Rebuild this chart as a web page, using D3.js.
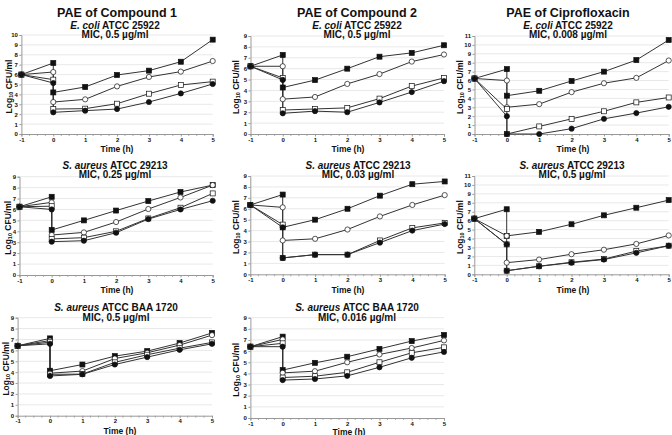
<!DOCTYPE html>
<html><head><meta charset="utf-8">
<script src="https://cdn.jsdelivr.net/npm/d3@7/dist/d3.min.js"></script>
<style>
body{margin:0;background:#fff}
text{font-family:"Liberation Sans",Arial,sans-serif;font-weight:bold;fill:#111}
</style>
</head><body>
<svg id="chart" width="672" height="435"></svg>
<script>
// ---------- DATA ----------
// time points: -1 h (start), 0 h before wash, 0 h after wash, then 1..5 h
const timeHours = [-1, 0, 0, 1, 2, 3, 4, 5];
const xTickValues = [-1, 0, 1, 2, 3, 4, 5];
const columnTitles = ["PAE of Compound 1", "PAE of Compound 2", "PAE of Ciprofloxacin"];
const panelSpecies = ["E. coli", "E. coli", "E. coli", "S. aureus", "S. aureus", "S. aureus", "S. aureus", "S. aureus"];
const panelStrains = ["ATCC 25922", "ATCC 25922", "ATCC 25922", "ATCC 29213", "ATCC 29213", "ATCC 29213", "ATCC BAA 1720", "ATCC BAA 1720"];
const panelMIC = ["0.5", "0.5", "0.008", "0.25", "0.03", "0.5", "0.5", "0.016"];
const panelYMax = [10, 9, 11, 9, 9, 11, 9, 9];
const seriesMarkers = ["filledSquare", "openCircle", "openSquare", "filledCircle"];

// each panel: four series (filled square, open circle, open square, filled circle)
const cmp1Ecoli = [
  [6.0, 7.17, 4.2, 4.75, 5.96, 6.4, 7.3, 9.53],
  [6.0, 6.26, 3.23, 3.5, 4.81, 5.76, 6.3, 7.37],
  [6.0, 5.49, 2.52, 2.56, 3.06, 4.07, 4.95, 5.29],
  [6.0, 5.15, 2.19, 2.36, 2.52, 3.23, 4.1, 5.05]
];
const cmp2Ecoli = [
  [6.22, 7.26, 4.27, 4.95, 6.0, 7.1, 7.45, 8.15],
  [6.22, 6.22, 3.2, 3.4, 4.6, 5.5, 6.65, 7.3],
  [6.22, 5.15, 2.2, 2.3, 2.4, 3.25, 4.4, 5.15],
  [6.22, 4.97, 1.9, 2.1, 2.0, 2.9, 3.85, 4.85]
];
const ciproEcoli = [
  [6.23, 7.28, 4.3, 4.85, 5.95, 7.0, 8.3, 10.55],
  [6.23, 6.0, 3.0, 3.35, 4.7, 5.7, 6.3, 8.25],
  [6.23, 2.8, 0.0, 0.85, 1.7, 2.55, 3.55, 4.1],
  [6.23, 2.0, 0.0, 0.0, 0.6, 1.7, 2.35, 3.05]
];
const cmp1Sa29213 = [
  [6.25, 7.16, 4.12, 5.0, 5.9, 6.77, 7.6, 8.23],
  [6.25, 6.65, 3.66, 3.9, 4.85, 6.04, 7.1, 8.23],
  [6.25, 6.3, 3.3, 3.42, 4.0, 5.18, 6.16, 7.47],
  [6.25, 6.0, 3.05, 3.14, 3.87, 5.12, 6.0, 6.8]
];
const cmp2Sa29213 = [
  [6.35, 7.3, 4.3, 5.0, 6.0, 7.2, 8.25, 8.5],
  [6.35, 6.13, 3.1, 3.25, 4.1, 5.3, 6.35, 7.25],
  [6.35, 4.55, 1.5, 1.8, 1.8, 3.1, 4.25, 4.7],
  [6.35, 4.3, 1.5, 1.8, 1.8, 2.9, 4.0, 4.6]
];
const ciproSa29213 = [
  [6.23, 7.28, 4.3, 4.75, 5.6, 6.6, 7.45, 8.3],
  [6.23, 4.3, 1.3, 1.65, 2.25, 2.75, 3.4, 4.35],
  [6.23, 3.35, 0.4, 0.9, 1.35, 1.7, 2.6, 3.2],
  [6.23, 3.35, 0.4, 0.9, 1.3, 1.65, 2.4, 3.2]
];
const cmp1Baa1720 = [
  [6.42, 7.1, 4.13, 4.7, 5.47, 5.93, 6.67, 7.6],
  [6.42, 6.9, 3.9, 4.1, 5.25, 5.78, 6.48, 7.4],
  [6.42, 6.75, 3.8, 3.82, 4.9, 5.6, 6.2, 6.73],
  [6.42, 6.6, 3.65, 3.8, 4.7, 5.38, 6.05, 6.6]
];
const cmp2Baa1720 = [
  [6.4, 7.3, 4.3, 4.95, 5.5, 6.2, 6.9, 7.45],
  [6.4, 7.05, 4.05, 4.2, 5.0, 5.7, 6.28, 6.96],
  [6.4, 6.7, 3.63, 3.75, 4.1, 5.0, 5.85, 6.34],
  [6.4, 6.4, 3.4, 3.5, 3.78, 4.55, 5.4, 5.93]
];
const panelData = [cmp1Ecoli, cmp2Ecoli, ciproEcoli, cmp1Sa29213, cmp2Sa29213, ciproSa29213, cmp1Baa1720, cmp2Baa1720];

// ---------- LAYOUT ----------
const layout = [
  {l: 21.4, r: 212.7, b: 134, t: 35, sx: 115, sy: 28.5, tx: 117, ty: 152, yl: 10},
  {l: 250.5, r: 444, b: 134, t: 36, sx: 357, sy: 28.5, tx: 348, ty: 152, yl: 237},
  {l: 474.5, r: 668.7, b: 134, t: 36, sx: 568, sy: 28.5, tx: 573, ty: 152, yl: 461},
  {l: 19.5, r: 212.7, b: 275, t: 176.7, sx: 115, sy: 168.5, tx: 117, ty: 292.5, yl: 9},
  {l: 250.3, r: 444.7, b: 274.3, t: 176, sx: 358, sy: 168.5, tx: 348, ty: 292.5, yl: 237},
  {l: 474.3, r: 668.7, b: 274.3, t: 176, sx: 572, sy: 168.5, tx: 573, ty: 292.5, yl: 461},
  {l: 17.6, r: 212, b: 415.7, t: 317.7, sx: 116, sy: 311, tx: 120, ty: 434, yl: 7},
  {l: 250.4, r: 444, b: 418, t: 317.7, sx: 357, sy: 311, tx: 349, ty: 434.5, yl: 237}
];
const titleX = [117, 357, 568];

const svg = d3.select("#chart");

columnTitles.forEach((t, i) => {
  svg.append("text").attr("x", titleX[i]).attr("y", 16.5)
    .attr("text-anchor", "middle").style("font-size", "12.5px").text(t);
});

panelData.forEach((series, p) => {
  const L = layout[p];
  const x = d3.scaleLinear().domain([-1, 5]).range([L.l, L.r]);
  const y = d3.scaleLinear().domain([0, panelYMax[p]]).range([L.b, L.t]);
  const g = svg.append("g");

  // gridlines
  g.append("g").selectAll("line").data(d3.range(1, panelYMax[p] + 1)).join("line")
    .attr("x1", L.l).attr("x2", L.r).attr("y1", d => y(d)).attr("y2", d => y(d))
    .attr("stroke", "#e2e2e2").attr("stroke-width", 0.8);

  // x axis
  const xAxis = d3.axisBottom(x).tickValues(xTickValues).tickSize(2.5).tickFormat(d => String(d));
  const xg = g.append("g").attr("transform", `translate(0,${L.b})`).call(xAxis);
  xg.select(".domain").attr("stroke", "#999");
  xg.selectAll(".tick line").attr("stroke", "#999");
  xg.selectAll("text").style("font-size", "6px").attr("y", 7.8).attr("dy", 0).attr("fill", "#333");
  // minor ticks
  const minorX = d3.range(-1, 5.001, 0.25).filter(v => Math.abs(v - Math.round(v)) > 0.01);
  g.append("g").selectAll("line").data(minorX).join("line")
    .attr("x1", d => x(d)).attr("x2", d => x(d)).attr("y1", L.b).attr("y2", L.b + 2)
    .attr("stroke", "#999").attr("stroke-width", 0.8);

  // y axis
  const yAxis = d3.axisLeft(y).ticks(panelYMax[p]).tickSize(2).tickFormat(d => String(d));
  const yg = g.append("g").attr("transform", `translate(${L.l},0)`).call(yAxis);
  yg.select(".domain").attr("stroke", "#999");
  yg.selectAll(".tick line").attr("stroke", "#999");
  yg.selectAll("text").style("font-size", "6px").attr("x", -3.5).attr("fill", "#333");

  // lines
  const line = d3.line().x((d, i) => x(timeHours[i])).y(d => y(d));
  g.append("g").selectAll("path").data(series).join("path")
    .attr("d", line).attr("fill", "none").attr("stroke", "#333").attr("stroke-width", 1);

  // markers
  series.forEach((vals, s) => {
    const m = seriesMarkers[s];
    const mg = g.append("g");
    vals.forEach((v, i) => {
      const cx = x(timeHours[i]), cy = y(v);
      const filled = m.startsWith("filled");
      if (m.endsWith("Square")) {
        mg.append("rect").attr("x", cx - 2.5).attr("y", cy - 2.5).attr("width", 5).attr("height", 5)
          .attr("fill", filled ? "#111" : "#fff").attr("stroke", "#111").attr("stroke-width", 0.7);
      } else {
        mg.append("circle").attr("cx", cx).attr("cy", cy).attr("r", 2.6)
          .attr("fill", filled ? "#111" : "#fff").attr("stroke", "#111").attr("stroke-width", 0.7);
      }
    });
  });

  // subtitle
  const st = svg.append("text").attr("x", L.sx).attr("y", L.sy).attr("text-anchor", "middle").style("font-size", "10px");
  st.append("tspan").style("font-style", "italic").text(panelSpecies[p]);
  st.append("tspan").text(" " + panelStrains[p]);
  svg.append("text").attr("x", L.sx).attr("y", L.sy + 9.7).attr("text-anchor", "middle")
    .style("font-size", "10px").text(`MIC, ${panelMIC[p]} µg/ml`);

  // x label
  svg.append("text").attr("x", L.tx).attr("y", L.ty).attr("text-anchor", "middle")
    .style("font-size", "8.5px").text("Time (h)");

  // y label
  const yc = (L.t + L.b) / 2 + 2;
  const yl = svg.append("text").attr("transform", `translate(${L.yl + 1.5},${yc}) rotate(-90)`)
    .attr("text-anchor", "middle").style("font-size", "8.5px");
  yl.append("tspan").text("Log");
  yl.append("tspan").style("font-size", "5.5px").attr("dy", "1.5").text("10");
  yl.append("tspan").attr("dy", "-1.5").text(" CFU/ml");
});
</script>
</body></html>
